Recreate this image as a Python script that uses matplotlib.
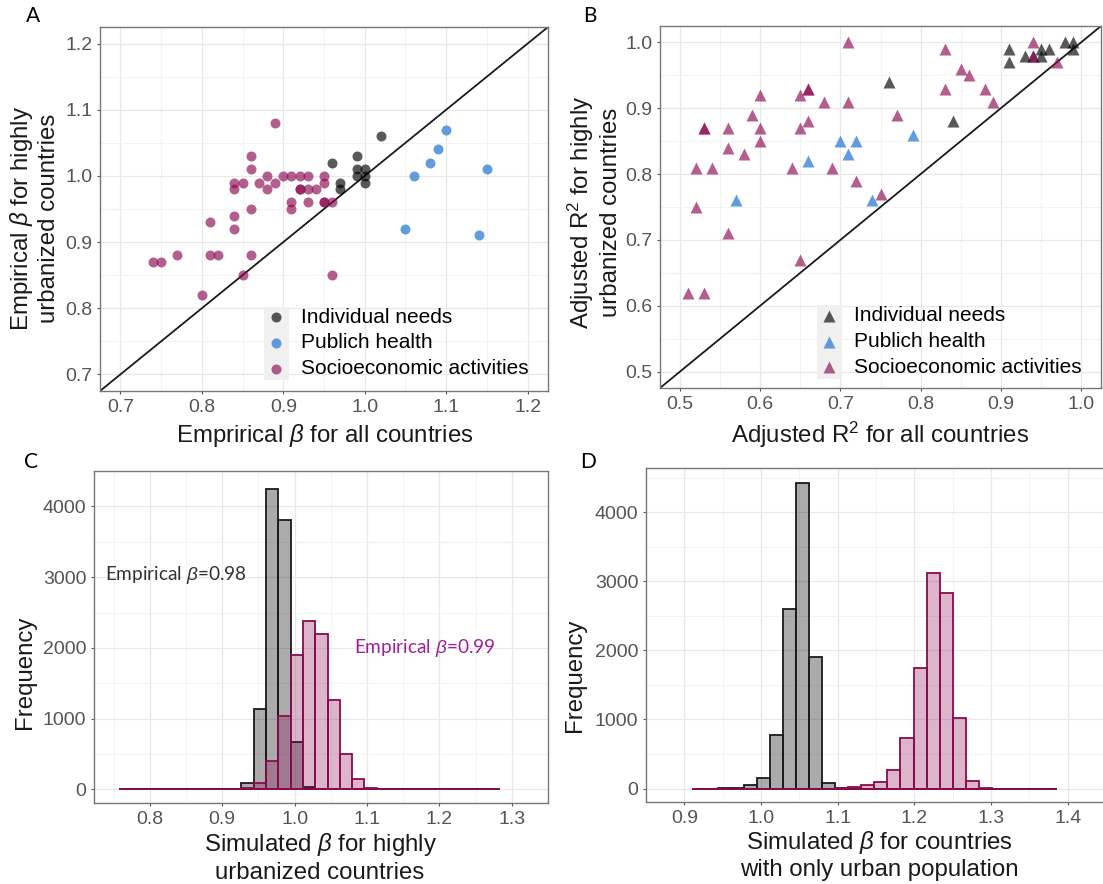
import matplotlib
matplotlib.use('Agg')
import matplotlib.pyplot as plt
from matplotlib.patches import Rectangle
import numpy as np

plt.rcParams['font.family'] = ['Liberation Sans', 'DejaVu Sans']
plt.rcParams['mathtext.fontset'] = 'custom'
plt.rcParams['mathtext.rm'] = 'Liberation Sans'
plt.rcParams['mathtext.it'] = 'Liberation Sans:italic'

# --- panel A: empirical beta, all countries vs highly urbanized ---
a_ind_x = [1.02, 0.96, 0.99, 0.99, 1.00, 0.99, 1.00, 1.00, 0.97, 0.97]
a_ind_y = [1.06, 1.02, 1.03, 1.01, 1.01, 1.00, 1.00, 0.99, 0.99, 0.98]
a_pub_x = [1.10, 1.09, 1.08, 1.06, 1.15, 1.05, 1.14]
a_pub_y = [1.07, 1.04, 1.02, 1.00, 1.01, 0.92, 0.91]
a_soc_x = [0.89, 0.86, 0.86, 0.84, 0.84, 0.85, 0.87, 0.88, 0.88, 0.89, 0.90,
           0.91, 0.92, 0.93, 0.95, 0.95, 0.92, 0.92, 0.93, 0.94, 0.91, 0.91,
           0.93, 0.95, 0.95, 0.96, 0.86, 0.84, 0.81, 0.84, 0.77, 0.81, 0.82,
           0.86, 0.74, 0.75, 0.85, 0.96, 0.80]
a_soc_y = [1.08, 1.03, 1.01, 0.99, 0.98, 0.99, 0.99, 1.00, 0.98, 0.99, 1.00,
           1.00, 1.00, 1.00, 1.00, 0.99, 0.98, 0.98, 0.98, 0.98, 0.96, 0.95,
           0.96, 0.96, 0.96, 0.96, 0.95, 0.94, 0.93, 0.92, 0.88, 0.88, 0.88,
           0.88, 0.87, 0.87, 0.85, 0.85, 0.82]

# --- panel B: adjusted R2, all countries vs highly urbanized ---
b_ind_x = [0.76, 0.84, 0.91, 0.91, 0.93, 0.94, 0.95, 0.95, 0.96, 0.98, 0.99, 0.99]
b_ind_y = [0.94, 0.88, 0.99, 0.97, 0.98, 0.98, 0.99, 0.98, 0.99, 1.00, 1.00, 0.99]
b_pub_x = [0.57, 0.66, 0.70, 0.72, 0.71, 0.74, 0.79]
b_pub_y = [0.76, 0.82, 0.85, 0.85, 0.83, 0.76, 0.86]
b_soc_x = [0.71, 0.83, 0.85, 0.86, 0.83, 0.88, 0.89, 0.94, 0.94, 0.97, 0.66,
           0.66, 0.65, 0.68, 0.71, 0.77, 0.66, 0.65, 0.60, 0.59, 0.60, 0.60,
           0.56, 0.56, 0.58, 0.53, 0.53, 0.52, 0.54, 0.52, 0.56, 0.64, 0.69,
           0.72, 0.75, 0.65, 0.51, 0.53]
b_soc_y = [1.00, 0.99, 0.96, 0.95, 0.93, 0.93, 0.91, 1.00, 0.98, 0.97, 0.93,
           0.93, 0.92, 0.91, 0.91, 0.89, 0.88, 0.87, 0.92, 0.89, 0.87, 0.85,
           0.87, 0.84, 0.83, 0.87, 0.87, 0.81, 0.81, 0.75, 0.71, 0.81, 0.81,
           0.79, 0.77, 0.67, 0.62, 0.62]

# --- panel C: simulated beta for highly urbanized countries ---
c_bin_start = 0.757
c_bin_width = 0.01697
c_all = [0, 0, 0, 0, 0, 0, 0, 0, 0, 8, 85, 1137, 4252, 3808, 666, 30,
         0, 0, 0, 0, 0, 0, 0, 0, 0, 0, 0, 0, 0, 0, 0]
c_urban = [0, 0, 0, 0, 0, 0, 0, 0, 0, 3, 20, 88, 405, 1040, 1902, 2378,
           2200, 1267, 503, 145, 22, 4, 0, 0, 0, 0, 0, 0, 0, 0, 0]

# --- panel D: simulated beta for countries with only urban population ---
d_bin_start = 0.9096
d_bin_width = 0.01702
d_all = [0, 0, 5, 10, 48, 155, 778, 2599, 4420, 1899, 82, 4, 0, 0,
         0, 0, 0, 0, 0, 0, 0, 0, 0, 0, 0, 0, 0, 0]
d_urban = [0, 0, 0, 0, 0, 0, 0, 0, 0, 0, 0, 5, 20, 48,
           97, 266, 734, 1739, 3121, 2826, 1024, 111, 5, 0, 0, 0, 0, 0]

group_labels = ['Individual needs', 'Publich health', 'Socioeconomic activities']

BLACK = '#000000'
BLUE = '#3a85d6'
PURPLE = '#8b0a50'
TICK = 14
LEG = 15
TITLE = 17.3

fig = plt.figure(figsize=(11.03, 8.84), dpi=100)
W, H = 1103, 884


def add_ax(l, t, r, b):
    return fig.add_axes([l / W, 1 - b / H, (r - l) / W, (b - t) / H])


def style(ax, xlim, ylim, xmaj, xmin, ymaj, ymin):
    ax.set_xlim(xlim)
    ax.set_ylim(ylim)
    ax.set_xticks(xmaj)
    ax.set_xticks(xmin, minor=True)
    ax.set_yticks(ymaj)
    ax.set_yticks(ymin, minor=True)
    ax.grid(which='major', color='#e8e8e8', lw=0.9)
    ax.grid(which='minor', color='#f3f3f3', lw=0.7)
    ax.set_axisbelow(True)
    for s in ax.spines.values():
        s.set_color('#777777')
        s.set_linewidth(1.0)
    ax.tick_params(which='major', length=2.5, width=0.8, color='#555555',
                   labelcolor='#555555', labelsize=TICK, pad=3)
    ax.tick_params(which='minor', length=0)


def key_legend(ax, handles, x0, yc, rect):
    leg = ax.legend(handles, group_labels, loc='center left',
                    bbox_to_anchor=(x0, yc), frameon=False, borderpad=0,
                    borderaxespad=0, handlelength=1.2, handletextpad=0.6,
                    labelspacing=0.32, fontsize=LEG, scatterpoints=1)
    leg.set_zorder(6)
    ax.add_patch(Rectangle(rect[:2], rect[2], rect[3], transform=ax.transAxes,
                           facecolor='#f0f0f0', edgecolor='none', zorder=5))


def axis_text(ax, x, y, s, rot=0, size=TITLE):
    ax.text(x, y, s, transform=ax.transAxes, rotation=rot, ha='center',
            va='center', multialignment='center', fontsize=size,
            color='#1a1a1a')


# A
axA = add_ax(100, 27, 548, 391)
limA = (0.675, 1.225)
ticksA = np.round(np.arange(0.7, 1.21, 0.1), 2)
style(axA, limA, limA, ticksA, ticksA[:-1] + 0.05, ticksA, ticksA[:-1] + 0.05)
axA.plot(limA, limA, color='#1a1a1a', lw=1.3, zorder=2)
hA = [axA.scatter(a_ind_x, a_ind_y, s=52, color=BLACK, alpha=0.65, lw=0, zorder=3),
      axA.scatter(a_pub_x, a_pub_y, s=52, color=BLUE, alpha=0.8, lw=0, zorder=3),
      axA.scatter(a_soc_x, a_soc_y, s=52, color=PURPLE, alpha=0.65, lw=0, zorder=3)]
key_legend(axA, hA, 0.366, 0.132, (0.366, 0.030, 0.056, 0.201))
axis_text(axA, 0.5007, -0.121, r'Emprirical $\mathit{\beta}$ for all countries')
axis_text(axA, -0.147, 0.475,
          'Empirical $\\mathit{\\beta}$ for highly\nurbanized countries', rot=90)

# B
axB = add_ax(660, 26, 1101, 388)
limB = (0.475, 1.025)
ticksB = np.round(np.arange(0.5, 1.01, 0.1), 2)
style(axB, limB, limB, ticksB, ticksB[:-1] + 0.05, ticksB, ticksB[:-1] + 0.05)
axB.plot(limB, limB, color='#1a1a1a', lw=1.3, zorder=2)
hB = [axB.scatter(b_ind_x, b_ind_y, s=75, marker='^', color=BLACK, alpha=0.65, lw=0, zorder=3),
      axB.scatter(b_pub_x, b_pub_y, s=75, marker='^', color=BLUE, alpha=0.8, lw=0, zorder=3),
      axB.scatter(b_soc_x, b_soc_y, s=75, marker='^', color=PURPLE, alpha=0.65, lw=0, zorder=3)]
key_legend(axB, hB, 0.356, 0.128, (0.356, 0.025, 0.057, 0.204))
axis_text(axB, 0.498, -0.130, r'Adjusted R$^2$ for all countries')
axis_text(axB, -0.150, 0.486,
          'Adjusted R$^2$ for highly\nurbanized countries', rot=90)


def hist_panel(ax, start, width, counts_all, counts_urban):
    edges = start + width * np.arange(len(counts_all))
    ax.bar(edges, counts_all, width=width, align='edge', color='#000000',
           alpha=0.33, lw=0, zorder=2)
    ax.bar(edges, counts_all, width=width, align='edge', fill=False,
           edgecolor='#1a1a1a', lw=1.3, zorder=2)
    ax.bar(edges, counts_urban, width=width, align='edge', color=PURPLE,
           alpha=0.3, lw=0, zorder=3)
    ax.bar(edges, counts_urban, width=width, align='edge', fill=False,
           edgecolor=PURPLE, lw=1.3, zorder=3)


yt = np.arange(0, 4001, 1000)
ytm = np.arange(500, 4501, 1000)

# C
axC = add_ax(94, 471, 548, 803)
xtC = np.round(np.arange(0.8, 1.31, 0.1), 2)
style(axC, (0.723, 1.327), (-191, 4447), xtC, np.append(xtC - 0.05, 1.35), yt, ytm)
hist_panel(axC, c_bin_start, c_bin_width, c_all, c_urban)
axC.text(0.024, 0.687, r'Empirical $\mathit{\beta}$=0.98', transform=axC.transAxes,
         fontsize=13.7, family=['Lato', 'DejaVu Sans'], color='#333333',
         ha='left', va='center')
axC.text(0.573, 0.468, r'Empirical $\mathit{\beta}$=0.99', transform=axC.transAxes,
         fontsize=13.7, family=['Lato', 'DejaVu Sans'], color='#a0209a',
         ha='left', va='center')
axis_text(axC, 0.498, -0.164,
          'Simulated $\\mathit{\\beta}$ for highly\nurbanized countries')
axis_text(axC, -0.152, 0.395, 'Frequency', rot=90)

# D
axD = add_ax(646, 468, 1106, 802)
xtD = np.round(np.arange(0.9, 1.41, 0.1), 2)
style(axD, (0.875, 1.42), (-194, 4638), xtD, np.append(xtD - 0.05, 1.45), yt, ytm)
hist_panel(axD, d_bin_start, d_bin_width, d_all, d_urban)
axis_text(axD, 0.507, -0.159,
          'Simulated $\\mathit{\\beta}$ for countries\nwith only urban population')
axis_text(axD, -0.154, 0.380, 'Frequency', rot=90)

for lab, x, y in [('A', 32.5, 16), ('B', 590, 16), ('C', 31, 462), ('D', 588, 462)]:
    fig.text(x / W, 1 - y / H, lab, ha='center', va='center', fontsize=15,
             family=['Lato', 'DejaVu Sans'], color='black')

fig.savefig('out.png', dpi=100)
